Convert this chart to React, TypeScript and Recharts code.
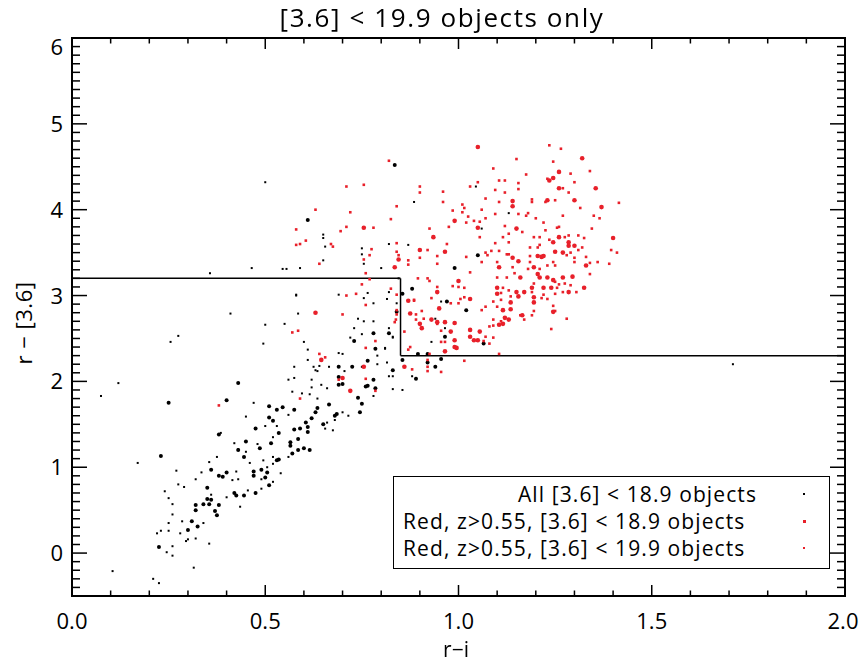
import React from "react";
import {
  ScatterChart,
  Scatter,
  XAxis,
  YAxis,
  ReferenceLine,
  ReferenceArea,
} from "recharts";

// ---------- data (r-i, r-[3.6]) ----------
const blackBig: [number, number][] = [
  [0.25, 1.75], [0.51, 1.71], [0.545, 1.7], [0.53, 1.67], [0.51, 1.58], [0.52, 1.54],
  [0.38, 1.38], [0.475, 1.45], [0.45, 1.3], [0.486, 1.22], [0.515, 1.28], [0.535, 1.4],
  [0.43, 1.2], [0.445, 1.12], [0.53, 1.08], [0.535, 1.09], [0.23, 1.13], [0.36, 0.97],
  [0.4, 0.94], [0.38, 0.9], [0.39, 0.89], [0.47, 0.95], [0.49, 0.97], [0.505, 0.94],
  [0.47, 0.9], [0.5, 0.88], [0.51, 0.79], [0.35, 0.76], [0.42, 0.7], [0.425, 0.67],
  [0.445, 0.67], [0.475, 0.7], [0.35, 0.63], [0.34, 0.57], [0.355, 0.57], [0.36, 0.62],
  [0.38, 0.56], [0.32, 0.56], [0.32, 0.5], [0.37, 0.49], [0.375, 0.44], [0.31, 0.37],
  [0.325, 0.31], [0.3, 0.27], [0.225, 0.07], [0.4, 1.78], [0.43, 1.98],
  [0.575, 1.67], [0.62, 1.57], [0.63, 1.64], [0.635, 1.69], [0.59, 1.45], [0.575, 1.44],
  [0.61, 1.47], [0.605, 1.52], [0.61, 1.41], [0.65, 1.5], [0.68, 1.6], [0.685, 1.62],
  [0.665, 1.73], [0.69, 1.96], [0.69, 2.05], [0.7, 1.97], [0.69, 2.17], [0.725, 2.17],
  [0.74, 1.81], [0.76, 1.94], [0.765, 1.95], [0.785, 1.92], [0.78, 2.02], [0.75, 1.74],
  [0.745, 1.64], [0.765, 2.24], [0.83, 2.13], [0.785, 2.38], [0.73, 2.47], [0.78, 2.56],
  [0.82, 2.56], [0.84, 2.81], [0.855, 3.02], [0.855, 2.25], [0.89, 2.03], [0.895, 2.32],
  [0.92, 2.32], [0.565, 1.29], [0.585, 1.33], [0.585, 1.2], [0.6, 1.22], [0.615, 1.2],
  [0.565, 1.25], [0.57, 1.16], [0.835, 4.52], [0.61, 3.88], [0.88, 3.08], [0.97, 2.93],
  [0.99, 3.32], [1.05, 3.47], [1.065, 2.44], [0.965, 2.52], [0.92, 2.22], [0.955, 2.26],
  [0.94, 2.17], [1.02, 2.83],
];

const blackSmall: [number, number][] = [
  [0.47, 1.75], [0.45, 1.59], [0.56, 1.61], [0.385, 1.4], [0.17, 1.05], [0.27, 0.96],
  [0.275, 0.8], [0.29, 0.77], [0.24, 0.72], [0.25, 0.64], [0.26, 0.57], [0.26, 0.45],
  [0.25, 0.35], [0.23, 0.26], [0.22, 0.23], [0.25, 0.26], [0.28, 0.23], [0.285, 0.37],
  [0.34, 0.35], [0.3, 0.16], [0.295, 0.14], [0.32, 0.17], [0.26, 0.08], [0.245, 0.01],
  [0.26, -0.03], [0.32, 0.86], [0.335, 0.94], [0.355, 1.06], [0.375, 1.12], [0.415, 0.85],
  [0.43, 0.86], [0.425, 0.95], [0.4, 0.65], [0.435, 0.54], [0.36, 0.68], [0.455, 0.73],
  [0.49, 0.75], [0.43, 1.21], [0.45, 1.18], [0.46, 1.05], [0.42, 1.28], [0.48, 1.27],
  [0.5, 1.48], [0.52, 1.35], [0.53, 1.48], [0.495, 1.08], [0.505, 1.0], [0.52, 1.04],
  [0.52, 1.12], [0.56, 1.12], [0.54, 0.93], [0.49, 0.86], [0.52, 0.83], [0.355, 0.11],
  [0.315, -0.17], [0.105, -0.21], [0.21, -0.3], [0.225, -0.35], [0.075, 1.83], [0.12, 1.98],
  [0.255, 2.46], [0.275, 2.53], [0.357, 3.26], [0.465, 3.32], [0.5, 4.32], [0.545, 3.31],
  [0.555, 3.31], [0.41, 2.79], [0.5, 2.66], [0.495, 2.44], [0.55, 2.67], [0.585, 2.79],
  [0.58, 3.0], [0.6, 2.46], [0.61, 2.37], [0.575, 2.17], [0.625, 2.17], [0.63, 2.13],
  [0.64, 2.18], [0.665, 2.17], [0.69, 2.33], [0.7, 2.32], [0.72, 2.51], [0.73, 2.62],
  [0.74, 2.73], [0.75, 2.55], [0.755, 2.7], [0.78, 2.7], [0.765, 3.03], [0.69, 3.01],
  [0.78, 2.91], [0.815, 2.96], [0.83, 2.51], [0.81, 2.38], [0.79, 2.3], [0.83, 2.06],
  [0.82, 2.06], [0.855, 1.9], [0.83, 1.91], [0.78, 1.83], [0.715, 1.6], [0.7, 1.64],
  [0.68, 1.55], [0.66, 1.52], [0.675, 1.43], [0.62, 2.02], [0.62, 1.93], [0.645, 1.96],
  [0.66, 1.92], [0.615, 1.85], [0.595, 1.86], [0.57, 1.88], [0.56, 2.02], [0.575, 2.04],
  [0.61, 2.25], [0.635, 2.12], [0.705, 2.12], [0.75, 2.17], [0.79, 2.2], [0.815, 2.22],
  [0.88, 2.06], [0.635, 1.8], [0.655, 1.45], [0.885, 4.09], [0.65, 3.71], [0.65, 3.67],
  [0.655, 3.57], [0.65, 3.41], [0.59, 3.32], [0.75, 3.55], [0.75, 3.48], [0.755, 3.37],
  [0.8, 3.32], [0.82, 3.6], [0.87, 3.59], [0.845, 3.2], [0.58, 3.01], [0.755, 2.97],
  [0.82, 3.04], [0.955, 2.93], [1.045, 4.27], [1.13, 3.96], [1.06, 3.78], [0.965, 2.62],
  [0.94, 2.73], [0.93, 2.46], [0.89, 2.04], [0.84, 2.91], [0.82, 2.62], [0.83, 2.52],
  [0.81, 2.39], [1.71, 2.2],
];

const redBig: [number, number][] = [
  [0.63, 2.8], [0.645, 2.25], [0.755, 2.17], [0.7, 2.04], [0.72, 1.89], [0.86, 2.17],
  [0.87, 2.94], [0.875, 2.79], [0.9, 2.67], [0.905, 2.62], [0.755, 3.79], [0.845, 3.42],
  [0.835, 3.33], [0.9, 3.53], [0.935, 3.68], [0.965, 3.51], [0.99, 3.87], [0.945, 3.04],
  [0.95, 2.85], [1.0, 3.17], [1.05, 4.73], [1.32, 4.6], [1.26, 4.44], [1.235, 4.34],
  [1.245, 4.37], [1.26, 4.25], [1.355, 4.25], [1.14, 4.1], [1.14, 4.04], [1.23, 4.11],
  [1.3, 4.11], [1.37, 4.03], [1.05, 3.79], [1.15, 3.78], [1.26, 3.68], [1.285, 3.62],
  [1.285, 3.58], [1.3, 3.58], [1.4, 3.67], [1.245, 3.62], [1.14, 3.44], [1.205, 3.46],
  [1.22, 3.46], [1.25, 3.51], [1.27, 3.5], [1.105, 3.33], [1.155, 3.4], [1.16, 3.21],
  [1.195, 3.33], [1.215, 3.45], [1.33, 3.35], [1.205, 3.25], [1.21, 3.21], [1.23, 3.21],
  [1.245, 3.18], [1.27, 3.21], [1.295, 3.22], [1.19, 3.09], [1.22, 3.09], [1.24, 3.09],
  [1.285, 3.04], [1.325, 3.09], [1.195, 2.98], [1.195, 2.92], [1.245, 2.81], [1.165, 2.77],
  [1.135, 2.92], [1.135, 2.84], [1.15, 3.04], [1.17, 3.04], [1.155, 2.99], [1.1, 3.09],
  [1.1, 3.02], [1.13, 2.72], [1.12, 2.74], [1.115, 2.67], [1.105, 2.66], [1.115, 2.83],
  [1.055, 2.58], [1.04, 2.48], [1.05, 2.48], [1.03, 2.52], [1.03, 2.6], [1.03, 2.96],
  [0.965, 2.69], [0.99, 2.68], [0.98, 2.58], [0.99, 2.48], [0.99, 2.4], [0.995, 2.39],
  [0.965, 2.35], [0.945, 2.69], [0.93, 2.72],
];

const redSmall: [number, number][] = [
  [0.38, 1.72], [0.57, 2.57], [0.585, 2.59], [0.7, 2.78], [0.71, 3.0], [0.735, 3.02],
  [0.76, 2.89], [0.655, 2.28], [0.64, 2.32], [0.76, 2.39], [0.785, 2.47], [0.69, 2.02],
  [0.76, 2.03], [0.785, 1.89], [0.59, 1.8], [0.84, 3.01], [0.84, 2.83], [0.835, 2.69],
  [0.838, 2.72], [0.88, 2.14], [0.92, 2.12], [0.92, 2.25], [0.86, 2.58], [0.875, 2.4],
  [0.885, 2.94], [0.84, 2.78], [0.89, 2.78], [0.905, 2.82], [0.89, 2.72], [0.91, 2.73],
  [0.925, 2.32], [0.82, 4.57], [0.71, 4.27], [0.755, 4.29], [0.9, 4.27], [0.9, 4.2],
  [0.96, 4.21], [0.96, 4.09], [0.63, 4.0], [0.72, 3.97], [0.84, 4.04], [0.825, 3.89],
  [0.58, 3.77], [0.71, 3.8], [0.695, 3.75], [0.78, 3.79], [0.605, 3.64], [0.58, 3.59],
  [0.59, 3.6], [0.67, 3.6], [0.675, 3.57], [0.64, 3.37], [0.775, 3.54], [0.77, 3.47],
  [0.755, 3.42], [0.84, 3.61], [0.84, 3.51], [0.845, 3.47], [0.87, 3.41], [0.87, 3.36],
  [0.9, 3.44], [0.92, 3.53], [0.925, 3.78], [0.945, 3.46], [0.97, 3.6], [0.975, 3.8],
  [0.985, 3.99], [1.015, 4.02], [1.01, 4.06], [1.02, 3.85], [1.025, 3.92], [1.02, 3.45],
  [0.945, 3.37], [0.76, 3.26], [0.77, 3.19], [0.75, 3.13], [0.825, 3.08], [0.895, 3.2],
  [0.92, 3.2], [0.925, 3.17], [0.945, 3.1], [0.885, 2.95], [0.93, 2.97], [0.98, 2.91],
  [0.985, 3.11], [1.0, 3.1], [1.015, 3.09], [1.015, 2.98], [1.005, 2.96], [1.0, 2.91],
  [1.03, 3.27], [1.235, 4.75], [1.265, 4.71], [1.15, 4.59], [1.245, 4.56], [1.09, 4.48],
  [1.175, 4.41], [1.29, 4.42], [1.34, 4.45], [1.23, 4.36], [1.3, 4.32], [1.105, 4.34],
  [1.12, 4.34], [1.155, 4.31], [1.05, 4.32], [1.03, 4.27], [1.155, 4.24], [1.095, 4.23],
  [1.12, 4.2], [1.27, 4.25], [1.285, 4.2], [1.07, 4.13], [1.105, 4.09], [1.19, 4.12],
  [1.19, 4.09], [1.225, 4.09], [1.25, 4.11], [1.415, 4.08], [1.315, 4.02], [1.01, 3.97],
  [1.06, 4.0], [1.095, 3.95], [1.155, 3.95], [1.18, 3.96], [1.175, 3.93], [1.27, 3.93],
  [1.35, 3.93], [1.365, 3.9], [1.04, 3.87], [1.055, 3.86], [1.07, 3.9], [1.2, 3.9],
  [1.22, 3.85], [1.12, 3.81], [1.165, 3.74], [1.255, 3.79], [1.26, 3.8], [1.225, 3.76],
  [1.345, 3.78], [1.055, 3.68], [1.13, 3.72], [1.115, 3.68], [1.195, 3.68], [1.21, 3.68],
  [1.235, 3.65], [1.275, 3.68], [1.285, 3.7], [1.31, 3.7], [1.325, 3.67], [1.32, 3.56],
  [1.31, 3.53], [1.395, 3.53], [1.41, 3.5], [1.095, 3.61], [1.13, 3.62], [1.21, 3.59],
  [1.205, 3.56], [1.185, 3.56], [1.185, 3.46], [1.28, 3.47], [1.29, 3.5], [1.33, 3.45],
  [1.3, 3.44], [1.07, 3.5], [1.075, 3.47], [1.125, 3.48], [1.13, 3.48], [1.105, 3.52],
  [1.085, 3.52], [1.06, 3.39], [1.1, 3.39], [1.1, 3.21], [1.125, 3.21], [1.14, 3.33],
  [1.145, 3.26], [1.18, 3.31], [1.185, 3.39], [1.21, 3.31], [1.23, 3.35], [1.245, 3.39],
  [1.25, 3.35], [1.3, 3.39], [1.34, 3.38], [1.36, 3.39], [1.39, 3.37], [1.34, 3.25],
  [1.25, 3.16], [1.275, 3.14], [1.29, 3.12], [1.26, 3.13], [1.195, 3.14], [1.255, 3.09],
  [1.27, 3.04], [1.305, 3.04], [1.19, 3.04], [1.22, 3.01], [1.23, 2.96], [1.215, 2.97],
  [1.25, 3.02], [1.245, 2.88], [1.25, 2.82], [1.28, 2.73], [1.24, 2.61], [1.195, 2.82],
  [1.19, 2.77], [1.16, 2.77], [1.17, 2.72], [1.135, 2.99], [1.13, 3.06], [1.11, 3.03],
  [1.115, 3.09], [1.11, 2.95], [1.11, 2.7], [1.09, 2.72], [1.09, 2.65], [1.08, 2.64],
  [1.1, 2.87], [1.09, 2.93], [1.07, 2.87], [1.06, 2.83], [1.09, 2.51], [1.105, 2.32],
  [1.08, 2.44], [1.065, 2.47], [1.07, 2.52], [1.015, 2.24], [0.965, 2.46], [0.955, 2.46],
  [0.955, 2.59], [0.945, 2.67], [0.87, 2.37], [0.955, 2.11], [0.92, 2.17],
];

// selection cut
const cutX = 0.85;
const cutYLeft = 3.2;
const cutYRight = 2.3;

// axes
const xDomain: [number, number] = [0, 2];
const yDomain: [number, number] = [-0.5, 6];
const xMajorTicks = [0, 0.5, 1.0, 1.5, 2.0];
const yMajorTicks = [0, 1, 2, 3, 4, 5, 6];

const xTicks: number[] = [];
for (let i = 0; i <= 20; i++) xTicks.push(i / 10);
const yTicks: number[] = [];
for (let i = -5; i <= 60; i++) yTicks.push(i / 10);

const legendItems = [
  { label: "All [3.6] < 18.9 objects", color: "#000", size: 2 },
  { label: "Red, z>0.55, [3.6] < 18.9 objects", color: "#e8202a", size: 3 },
  { label: "Red, z>0.55, [3.6] < 19.9 objects", color: "#e8202a", size: 2 },
];

const toPts = (a: [number, number][]) => a.map(([x, y]) => ({ x, y }));

// ---------- layout ----------
const W = 862;
const H = 662;
const PLOT_L = 72;
const PLOT_R = 845;
const PLOT_T = 38;
const PLOT_B = 596;
const PLOT_W = PLOT_R - PLOT_L;
const PLOT_H = PLOT_B - PLOT_T;
const FONT = "'Open Sans', 'DejaVu Sans', sans-serif";
const RED = "#e8202a";

const isMajor = (v: number, list: number[]) => list.some((m) => Math.abs(m - v) < 1e-6);

const XTick = (props: any) => {
  const { x, y, payload } = props;
  const v = payload.value as number;
  const major = isMajor(v, xMajorTicks);
  const len = major ? 11 : 5.5;
  const shift = Math.abs(v - xDomain[1]) < 1e-6 ? -2 : 0;
  return (
    <g>
      <line x1={x} x2={x} y1={y} y2={y - len} stroke="#000" strokeWidth={1.5} />
      <line x1={x} x2={x} y1={y - PLOT_H} y2={y - PLOT_H + len} stroke="#000" strokeWidth={1.5} />
      {major && (
        <text x={x + shift} y={y + 33} textAnchor="middle" fontSize={22} fontFamily={FONT} fill="#000">
          {v.toFixed(1)}
        </text>
      )}
    </g>
  );
};

const YTick = (props: any) => {
  const { x, y, payload } = props;
  const v = payload.value as number;
  const major = isMajor(v, yMajorTicks);
  const len = major ? 15 : 8;
  const dy = v === 6 ? 17 : 8;
  return (
    <g>
      <line x1={x} x2={x + len} y1={y} y2={y} stroke="#000" strokeWidth={1.5} />
      <line x1={x + PLOT_W} x2={x + PLOT_W - len} y1={y} y2={y} stroke="#000" strokeWidth={1.5} />
      {major && (
        <text x={x - 9} y={y + dy} textAnchor="end" fontSize={22} fontFamily={FONT} fill="#000">
          {String(Math.round(v))}
        </text>
      )}
    </g>
  );
};

const dotShape = (r: number, color: string) => (p: any) =>
  <circle cx={p.cx} cy={p.cy} r={r} fill={color} />;
const sqShape = (s: number, color: string) => (p: any) =>
  <rect x={p.cx - s / 2} y={p.cy - s / 2} width={s} height={s} fill={color} />;

export default function App() {
  return (
    <div
      style={{
        position: "fixed", left: 0, top: 0, width: W, height: H, background: "#fff",
      }}
    >
      <ScatterChart
        width={W}
        height={H}
        margin={{ top: PLOT_T, right: W - PLOT_R, bottom: 0, left: 0 }}
      >
        <XAxis
          type="number"
          dataKey="x"
          domain={xDomain}
          ticks={xTicks}
          interval={0}
          allowDataOverflow
          axisLine={false}
          tickLine={false}
          tickSize={0}
          tickMargin={0}
          height={H - PLOT_B}
          tick={<XTick />}
        />
        <YAxis
          type="number"
          dataKey="y"
          domain={yDomain}
          ticks={yTicks}
          interval={0}
          allowDataOverflow
          axisLine={false}
          tickLine={false}
          tickSize={0}
          tickMargin={0}
          width={PLOT_L}
          tick={<YTick />}
        />
        <Scatter data={toPts(blackSmall)} isAnimationActive={false} shape={sqShape(2, "#000")} />
        <Scatter data={toPts(blackBig)} isAnimationActive={false} shape={dotShape(2, "#000")} />
        <Scatter data={toPts(redSmall)} isAnimationActive={false} shape={sqShape(2.6, RED)} />
        <Scatter data={toPts(redBig)} isAnimationActive={false} shape={dotShape(2.3, RED)} />
        <ReferenceLine
          segment={[{ x: xDomain[0], y: cutYLeft }, { x: cutX, y: cutYLeft }]}
          stroke="#000"
          strokeWidth={1.5}
          ifOverflow="visible"
        />
        <ReferenceLine
          segment={[{ x: cutX, y: cutYLeft }, { x: cutX, y: cutYRight }]}
          stroke="#000"
          strokeWidth={1.5}
          ifOverflow="visible"
        />
        <ReferenceLine
          segment={[{ x: cutX, y: cutYRight }, { x: xDomain[1], y: cutYRight }]}
          stroke="#000"
          strokeWidth={1.5}
          ifOverflow="visible"
        />
        <ReferenceArea
          x1={xDomain[0]}
          x2={xDomain[1]}
          y1={yDomain[0]}
          y2={yDomain[1]}
          fill="none"
          fillOpacity={0}
          stroke="#000"
          strokeWidth={2}
          ifOverflow="visible"
        />
      </ScatterChart>

      {/* title */}
      <div
        style={{
          position: "absolute", left: 0, width: 884, top: 3, textAlign: "center",
          fontFamily: FONT, fontSize: 26, lineHeight: "28px", letterSpacing: "1.6px", color: "#000",
        }}
      >
        [3.6] &lt; 19.9 objects only
      </div>
      {/* x label */}
      <div
        style={{
          position: "absolute", left: 356, width: 200, top: 638, height: 22, textAlign: "center",
          fontFamily: FONT, fontSize: 21, lineHeight: "22px", color: "#000",
        }}
      >
        r−i
      </div>
      {/* y label */}
      <div
        style={{
          position: "absolute", left: 23 - 100, top: 323 - 14, width: 200, height: 28,
          textAlign: "center", transform: "rotate(-90deg)", fontFamily: FONT, fontSize: 22,
          lineHeight: "28px", letterSpacing: "0.5px", color: "#000",
        }}
      >
        r − [3.6]
      </div>
      {/* legend */}
      <div
        style={{
          position: "absolute", left: 393, top: 476, width: 437, height: 93,
          border: "1.5px solid #000", boxSizing: "border-box", background: "#fff",
        }}
      />
      {legendItems.map((it, i) => (
        <React.Fragment key={i}>
          <div
            style={
              i === 0
                ? {
                    position: "absolute", right: W - 757, top: 494 - 14, height: 28,
                    fontFamily: FONT, fontSize: 21, lineHeight: "28px", letterSpacing: "1.1px",
                    color: "#000", whiteSpace: "nowrap",
                  }
                : {
                    position: "absolute", left: 403, top: 494 + i * 27 - 14, height: 28,
                    fontFamily: FONT, fontSize: 21, lineHeight: "28px", letterSpacing: "1.1px",
                    color: "#000", whiteSpace: "nowrap",
                  }
            }
          >
            {it.label}
          </div>
          <div
            style={{
              position: "absolute", left: 804 - it.size / 2, top: 494 + i * 27 - it.size / 2,
              width: it.size, height: it.size, background: it.color,
            }}
          />
        </React.Fragment>
      ))}
    </div>
  );
}
